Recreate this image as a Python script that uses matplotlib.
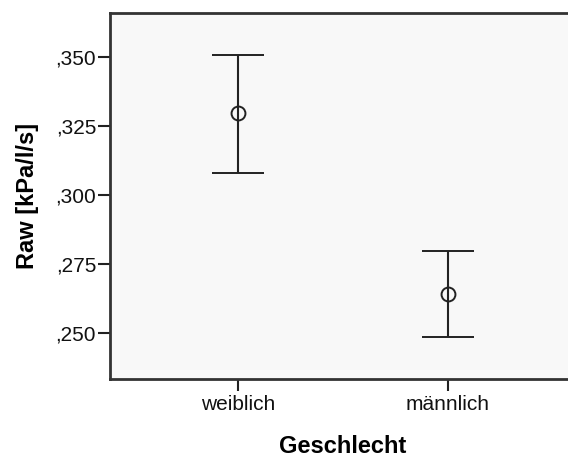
import matplotlib
matplotlib.use("Agg")
import matplotlib.pyplot as plt
from matplotlib.ticker import FuncFormatter

categories = ["weiblich", "männlich"]
means = [0.3298, 0.2643]
upper = [0.3509, 0.2799]
lower = [0.3080, 0.2487]
yticks = [0.250, 0.275, 0.300, 0.325, 0.350]

plt.rcParams['font.family'] = ['Liberation Sans', 'DejaVu Sans']

fig = plt.figure(figsize=(5.68, 4.57), dpi=100)
fig.patch.set_facecolor('white')
W, H = 568, 457
left, right, top, bottom = 110, 576, 13, 379
ax = fig.add_axes([left / W, 1 - bottom / H, (right - left) / W, (bottom - top) / H])
ax.set_facecolor('#f8f8f8')

x = list(range(len(categories)))
yerr = [[m - l for m, l in zip(means, lower)], [u - m for m, u in zip(means, upper)]]
ax.errorbar(x, means, yerr=yerr, fmt='o', mfc='none', mec='#222222', mew=1.4,
            ms=10, ecolor='#222222', elinewidth=1.5, capsize=19, capthick=1.5, zorder=3)

ax.set_xlim(-0.61, 1.61)
ax.set_ylim(0.2333, 0.3661)
ax.set_xticks(x)
ax.set_xticklabels(categories, fontsize=15)
ax.set_yticks(yticks)
ax.yaxis.set_major_formatter(FuncFormatter(lambda v, p: ("%.3f" % v).lstrip('0').replace('.', ',')))
ax.tick_params(axis='y', labelsize=15, length=9, width=1.5, color='#222222', pad=1, labelcolor='#111111')
ax.tick_params(axis='x', length=8.5, width=1.5, color='#222222', pad=3, labelcolor='#111111')

for s in ['left', 'top', 'bottom']:
    ax.spines[s].set_linewidth(2)
    ax.spines[s].set_color('#333333')
ax.spines['right'].set_visible(False)

ax.set_xlabel("Geschlecht", fontsize=17, fontweight='bold', labelpad=15)
ax.set_ylabel("Raw [kPa/l/s]", fontsize=17, fontweight='bold', labelpad=12)

fig.savefig("out.png", dpi=100)
